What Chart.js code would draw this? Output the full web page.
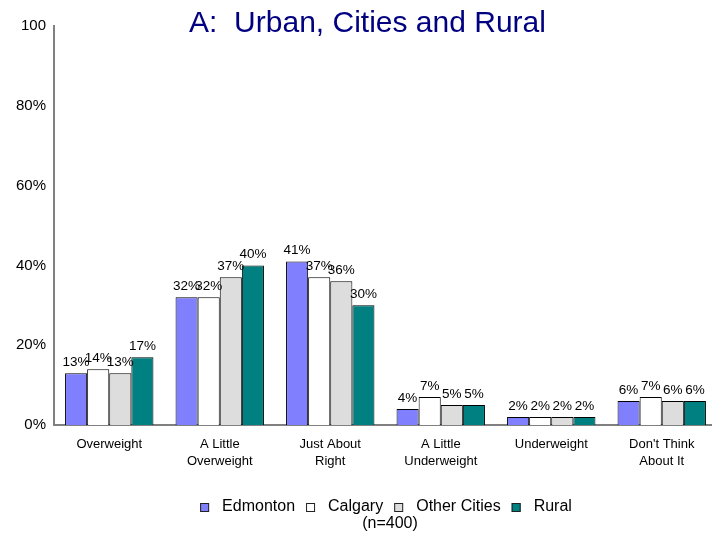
<!DOCTYPE html>
<html>
<head>
<meta charset="utf-8">
<script src="https://cdn.jsdelivr.net/npm/chart.js@4/dist/chart.umd.min.js"></script>
<style>
  html, body { margin: 0; padding: 0; background: #fff; overflow: hidden; }
  canvas { display: block; }
</style>
</head>
<body>
<canvas id="chart" width="720" height="535"></canvas>
<script>
const categories = ['Overweight', ['A Little', 'Overweight'], ['Just About', 'Right'], ['A Little', 'Underweight'], 'Underweight', ["Don't Think", 'About It']];
const edmonton = [13, 32, 41, 4, 2, 6];
const calgary = [14, 32, 37, 7, 2, 7];
const otherCities = [13, 37, 36, 5, 2, 6];
const rural = [17, 40, 30, 5, 2, 6];
const seriesNames = ['Edmonton', 'Calgary', 'Other Cities', 'Rural'];
const seriesColors = ['#8080ff', '#ffffff', '#dddddd', '#008080'];
const yTicks = [0, 20, 40, 60, 80, 100];
const chartTitle = 'A:  Urban, Cities and Rural';
const sampleNote = '(n=400)';

const FONT = '"Liberation Sans", Arial, sans-serif';

// value labels above each bar
const barLabels = {
  id: 'barLabels',
  afterDatasetsDraw(chart) {
    const ctx = chart.ctx;
    ctx.save();
    ctx.font = '13.5px ' + FONT;
    ctx.fillStyle = '#000';
    ctx.textAlign = 'center';
    ctx.textBaseline = 'alphabetic';
    chart.data.datasets.forEach((ds, i) => {
      chart.getDatasetMeta(i).data.forEach((bar, j) => {
        ctx.fillText(ds.data[j] + '%', bar.x, bar.y - 7);
      });
    });
    ctx.restore();
  }
};

// title, legend and sample size note
const decorations = {
  id: 'decorations',
  afterDraw(chart) {
    const ctx = chart.ctx;
    const area = chart.chartArea;
    const mid = (area.left + area.right) / 2;
    ctx.save();
    ctx.font = '30px ' + FONT;
    ctx.fillStyle = '#000080';
    ctx.textAlign = 'center';
    ctx.textBaseline = 'alphabetic';
    ctx.fillText(chartTitle, mid - 18, 32);

    ctx.font = '16px ' + FONT;
    const box = 9, gap = 13, spacing = 11;
    const widths = seriesNames.map(n => box + gap + ctx.measureText(n).width);
    const total = widths.reduce((a, b) => a + b, 0) + spacing * (widths.length - 1);
    let x = 386 - total / 2;
    const y = 507;
    ctx.textAlign = 'left';
    ctx.textBaseline = 'middle';
    seriesNames.forEach((n, i) => {
      ctx.fillStyle = seriesColors[i];
      ctx.fillRect(x, y - 4, box, box);
      ctx.strokeStyle = '#222';
      ctx.lineWidth = 1;
      ctx.strokeRect(x + 0.5, y - 3.5, box - 1, box - 1);
      ctx.fillStyle = '#000';
      ctx.fillText(n, x + box + gap, y);
      x += widths[i] + spacing;
    });
    ctx.textAlign = 'center';
    ctx.fillText(sampleNote, 390, 524);
    ctx.restore();
  }
};

new Chart(document.getElementById('chart'), {
  type: 'bar',
  data: {
    labels: categories,
    datasets: [edmonton, calgary, otherCities, rural].map((d, i) => ({
      label: seriesNames[i],
      data: d,
      backgroundColor: seriesColors[i],
      borderColor: '#000',
      borderWidth: 1,
      categoryPercentage: 0.8,
      barPercentage: 1.0
    }))
  },
  options: {
    responsive: false,
    animation: false,
    devicePixelRatio: 1,
    layout: { padding: { top: 26, right: 3, bottom: 0, left: 0 } },
    plugins: {
      legend: { display: false },
      title: { display: false },
      tooltip: { enabled: false }
    },
    scales: {
      x: {
        grid: { display: false, drawTicks: false },
        border: { display: true, color: '#808080', width: 2 },
        ticks: {
          color: '#000',
          font: { family: FONT, size: 13, lineHeight: 1.3 },
          padding: 11,
          maxRotation: 0,
          autoSkip: false
        },
        afterFit(scale) { scale.height = 110; }
      },
      y: {
        min: 0,
        max: 100,
        grid: { display: false, drawTicks: false },
        border: { display: true, color: '#808080', width: 2 },
        afterBuildTicks(scale) { scale.ticks = yTicks.map(v => ({ value: v })); },
        ticks: {
          color: '#000',
          font: { family: FONT, size: 15 },
          padding: 8,
          callback: v => v === 100 ? '100' : v + '%'
        },
        afterFit(scale) { scale.width = 54; }
      }
    }
  },
  plugins: [barLabels, decorations]
});
</script>
</body>
</html>
